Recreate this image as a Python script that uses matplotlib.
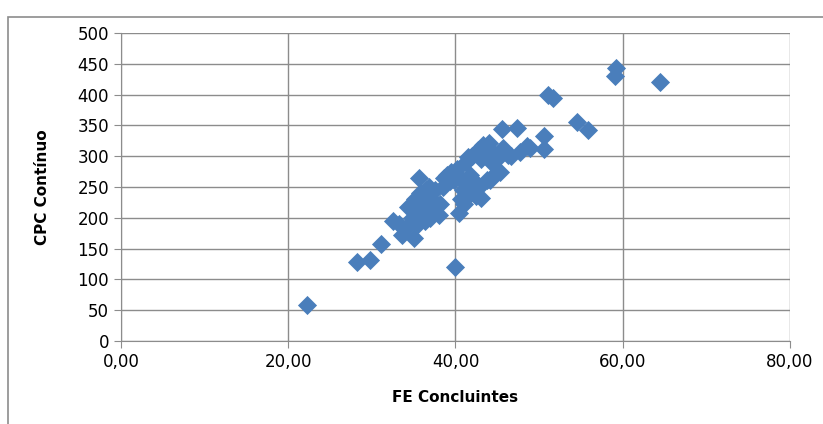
import matplotlib.pyplot as plt
from matplotlib.patches import Rectangle

# FE Concluintes (x) e CPC Continuo (y)
fe = [22.3, 28.2, 29.8, 31.1, 32.5, 33.3, 33.6, 34.2, 34.3, 34.8,
      35.0, 35.2, 35.3, 35.5, 35.6, 35.8, 36.0, 36.1, 36.3, 36.5,
      36.6, 36.8, 37.0, 37.0, 37.3, 37.5, 37.8, 38.0, 38.2, 38.5,
      38.6, 39.0, 39.3, 39.5, 39.8, 40.0, 40.2, 40.4, 40.5, 40.7,
      40.9, 41.0, 41.2, 41.3, 41.5, 41.7, 41.8, 42.0, 42.2, 42.5,
      42.7, 42.8, 43.0, 43.1, 43.3, 43.8, 43.7, 44.0, 44.1, 44.3,
      44.5, 44.8, 45.0, 45.3, 45.6, 45.7, 46.3, 46.6, 47.3, 47.7,
      48.5, 48.9, 50.6, 50.6, 51.1, 51.6, 54.5, 55.8, 59.2, 59.1,
      64.5]
cpc = [58, 128, 132, 157, 195, 190, 172, 185, 217, 200,
       168, 230, 210, 190, 265, 240, 225, 205, 195, 245,
       215, 250, 230, 200, 210, 245, 220, 205, 222, 250,
       265, 270, 260, 275, 262, 120, 280, 207, 265, 230,
       245, 222, 290, 255, 298, 270, 240, 300, 260, 235,
       310, 250, 295, 232, 318, 262, 300, 322, 262, 290,
       305, 272, 295, 275, 344, 313, 302, 300, 345, 307,
       317, 313, 332, 312, 400, 395, 356, 342, 443, 431,
       421]

xticks = [0, 20, 40, 60, 80]
yticks = [0, 50, 100, 150, 200, 250, 300, 350, 400, 450, 500]

plt.rcParams['font.family'] = ['Liberation Sans Narrow', 'DejaVu Sans']

fig = plt.figure(figsize=(8.23, 4.24), dpi=100)
ax = fig.add_axes([121/823, 83/424, 669/823, 308/424])

ax.scatter(fe, cpc, marker='D', s=95, color='#4A7EBB', linewidths=0, zorder=3)

ax.set_xlim(0, 80)
ax.set_ylim(0, 500)
ax.set_xticks(xticks)
ax.set_yticks(yticks)
ax.set_xticklabels([f"{v:.2f}".replace('.', ',') for v in xticks])
ax.grid(True, color='#8c8c8c', linewidth=1)
ax.set_axisbelow(True)
for s in ['top', 'right']:
    ax.spines[s].set_visible(False)
for s in ['left', 'bottom']:
    ax.spines[s].set_color('#8c8c8c')
ax.tick_params(axis='both', colors='#8c8c8c', labelcolor='black', labelsize=12,
               length=5, direction='out')
ax.set_xlabel('FE Concluintes', fontsize=11, fontweight='bold', labelpad=14)
ax.set_ylabel('CPC Contínuo', fontsize=11, fontweight='bold', labelpad=20)

# borda da area do grafico
fig.patches.append(Rectangle((8/823, -0.1), 1.1, (424-17)/424 + 0.1,
                             transform=fig.transFigure, fill=False,
                             edgecolor='#8c8c8c', linewidth=1.2))

fig.savefig('out.png', dpi=100)
